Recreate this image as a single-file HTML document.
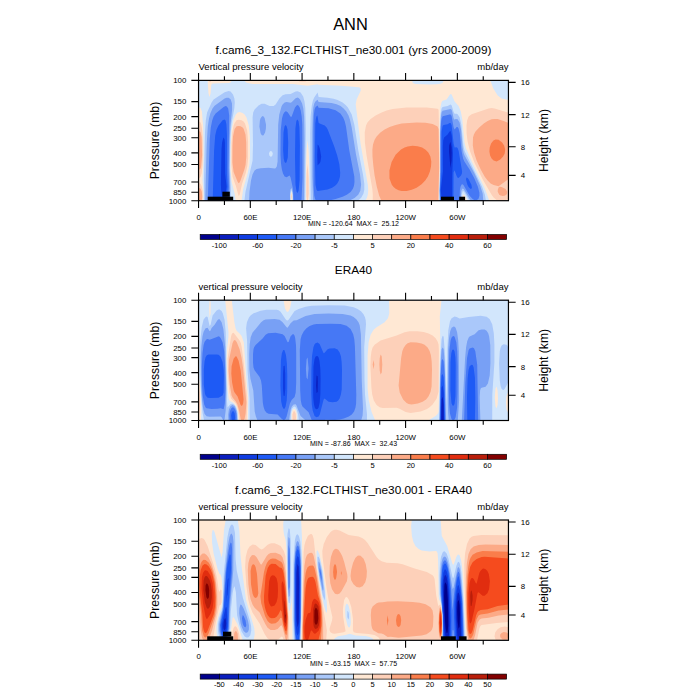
<!DOCTYPE html><html><head><meta charset="utf-8"><title>ANN</title><style>html,body{margin:0;padding:0;background:#fff}svg{display:block}text{font-family:'Liberation Sans', sans-serif;fill:#000}</style></head><body>
<svg width="700" height="700" viewBox="0 0 700 700">
<rect width="700" height="700" fill="#fff"/>
<defs><clipPath id="clip0"><rect x="198.55" y="80.4" width="309.9" height="120.3"/></clipPath><clipPath id="clip1"><rect x="198.55" y="300.2" width="309.9" height="120.3"/></clipPath><clipPath id="clip2"><rect x="198.55" y="520.0" width="309.9" height="120.3"/></clipPath></defs>
<text x="350.5" y="29.7" font-size="16.4" text-anchor="middle">ANN</text>
<g clip-path="url(#clip0)"><rect x="198.55" y="80.4" width="310" height="120.3" fill="#0a1ebe"/>
<path fill="#0f3ce1" fill-rule="evenodd" d="M199.6 80.4l309 0l0 120.3l-310 0l0-120.3zM450.1 142.6l-0.9 3l-0.2 6l1.5 16.4l1-7.4l0.2-8l-0.2-5l-1-5.6z"/>
<path fill="#1e5af5" fill-rule="evenodd" d="M199.6 80.4l309 0l0 120.3l-56.4 0l0-25.1l0.8-22l-1.3-18.1l-1.1-4.4l-1 0.3l-2 3l-3.5 3.1l-0.9 3.1l-0.3 6l0.1 25l-2.2 18.1l0.9 11l-243.1 0l0-120.3zM223.1 138.5l-1 4.1l-0.6 7l-0.6 35.1l0.4 8l1.3 5.4l1-0.4l2-4.7l1-6.3l-1.5-13.1l-0.2-31l-0.3-3.2l-1-1.8zM317.6 144.6l-0.4 11l0.4 9.6l1.9-1.6l1-2l0.7-5l-1.4-8l-1.2-3z"/>
<path fill="#4678f5" fill-rule="evenodd" d="M199.6 80.4l309 0l0 120.3l-55.2 0l0.2-28.2l1-2.3l2 5.7l1 1.8l1 0.4l2.4-2.5l0.9-2l0.2-2l-3.5-20.9l-1-2.8l-1-0.6l-2 0.3l-1-4.2l-2-18.2l-1-2.3l-1 0l-2 1.3l-4 0.8l-0.6 0.5l-0.5 1l-0.9 5l-0.3 41.1l-1.1 17.1l0.6 11l-214.5 0l1.4-14l-0.8-13.1l0.1-38.1l-0.6-11l-0.8-3.9l-1-1.2l-2 0.9l-4.1 5.2l-1.9 4.1l-1.4 5.9l-1.1 15.1l-1.4 50.1l-14.1 0l0-120.3zM317.4 115.5l-0.8 0.7l-0.7 2.3l-0.6 5l-0.4 36.1l0.6 25.1l1.1 5.4l1 1l10-1.7l4.5-1.7l3-2l2-2l1.8-3.1l1.1-4l0.2-4l-0.8-8l-2.2-9l-3.3-10l-6.2-16.1l-1.1-2.1l-1.9-1.9l-5.1-2l-1-0.8zM297.5 119.5l-0.9 0.9l-0.3 1.1l-0.9 7l-0.4 28.1l0.5 28.1l1.1 7.1l1 1.2l1-2.4l1-10.5l0.3-34.5l-0.5-18.1l-0.8-6.1zM285.2 125.5l-0.7 1.1l-1 5.8l-0.4 17.2l0.6 9l0.8 3.1l1 1.2l1-0.6l1.3-4.7l0.4-15l-0.7-13l-1-3.7l-1-0.8zM466.4 177.6l-0.4 2l1.4 5.1l1.2 2.4l2 2l1-0.5l0.3-0.9l-0.5-3l-2.8-5.4l-1-1.3z"/>
<path fill="#78a0f5" fill-rule="evenodd" d="M199.6 80.4l309 0l0 120.3l-49 0l0.3-11l0.7-3.3l1-2l1-0.2l1 1l6 10.5l3 3.4l2 1.2l2 0l1.9-1.6l0.9-3l0-3l-1.5-6l-3.5-8.1l-4.8-9.1l-5.2-7.9l-1.3-3l-1.5-7.4l-1.8-17.7l-1.2-5l-1-1.6l-1 0l-2 2.6l-1-2.3l-2-11.2l-1-1.4l-1 0l-7 1.7l-1 2.4l-0.4 2.8l-0.7 13l0 37.1l-0.7 18.1l0.3 11l-111.9 0l7.4-1.6l7-2.4l4.2-2l3.8-2.8l2.3-3.2l1.1-3l0.5-4l-0.2-5.1l-5-26l-3.3-24.1l-1.2-5l-1.6-4l-2.8-4l-4.8-3.3l-7-1.9l-10-0.6l-1-2.1l-2 1.5l-1 2.4l-0.8 6l-0.3 9l0.1 61.2l0.7 10l0.7 3l1 2l-14.5 0l1-23.1l-0.2-53.1l-0.6-8l-1-6l-1.1-3.3l-1-1.5l-1-0.6l-1 0.3l-1.6 2.1l-3.4 9.3l-1 0l-2.7-4.3l-1.3-1.1l-1-0.1l-1.4 1.2l-1.1 2l-1.1 4l-1.3 12l-0.2 24.1l0.5 9l0.9 6l1.1 4l1.6 2.8l2 0.8l3-1.6l1 1.9l2.4 11.2l0.6 12l-65.5 0l0.9-14l-0.6-18.1l0.8-53.1l-1-7l-1.3-2l-1.3-0.4l-2 1l-8 6.3l-2 3.1l-1.4 4l-1.4 7l-1 11l-2 62.2l-9.2 0l0-120.3z"/>
<path fill="#aac8fa" fill-rule="evenodd" d="M199.6 80.4l309 0l0 120.3l-25.4 0l-0.5-7l-2.5-8l-6.2-13.1l-9.4-17l-1-2.7l-1-5.3l-1.6-18.1l-1.4-6.9l-2-3.4l-2-0.3l-1 0.8l-1-1.4l-1.4-6.8l-0.6-1.7l-1-0.9l-8 1.8l-1 1.7l-0.8 5.1l-0.7 14l0 40.1l-0.6 19.1l0.2 10l-90.4 0l5.3-2.7l3.6-3.3l2.1-4l0.8-6l-1.1-10.1l-4-20l-4.3-27.1l-1.8-8l-1.4-4l-2.2-4l-2.7-3.1l-3-2.3l-4-1.9l-5-1.2l-13-1l-1-2.2l-2 1.4l-1.3 2.3l-1 4l-0.5 6l-0.5 19l0 44.1l0.9 24.1l-9.2 0l0.5-62.2l-0.4-22l-0.8-8l-1.2-5l-2-4.1l-1.5-1.5l-1-0.3l-2 0.7l-4 4l-1 0.4l-4-0.6l-2 0.4l-2 2l-1 1.8l-2.3 8.2l-1.1 10l-0.6 37.1l-0.8 5l-1.2 1.6l-1 0.2l-6-0.6l-8 0.4l-4 0.9l-2 1.4l-2 3.7l-1.6 6.4l-1.5 11.1l-0.4 9l-19.6 0l0.5-13l-0.7-18.1l0.3-28l0.7-15.1l1.8-17l-0.1-6l-1.4-4.3l-2-1.4l-2-0.1l-2 0.9l-10 7.1l-2.1 2.8l-2.2 5l-1.3 5l-1.2 8l-1.1 18.1l-1.5 56.1l-6.6 0l0-120.3zM261.9 116.5l-1.3 1.7l-0.7 2.3l-0.5 6l1.2 6.8l1 1.7l1 0.5l1-0.3l1.5-2.7l0.8-4l0.1-4l-1.4-6.5l-1-1.5l-1-0.4zM291.6 187.9l1.1 4.8l0.2 8l-2.9 0l0.1-9l0.5-2.5zM462.6 188.5l1 0.5l1 1.5l6.2 10.2l-10 0l0.4-9l0.4-1.8z"/>
<path fill="#d2e6fc" fill-rule="evenodd" d="M199.6 80.4l309 0l0 120.3l-22.7 0l-1-6l-2.8-8l-17.5-35.6l-1.2-5.5l-2.1-21.1l-1.7-7.3l-2-3l-1-0.5l-2 0l-1-1.6l-1.9-6.6l-1.1-1l-3 1.5l-5 1l-1 1.4l-1 5.4l-0.7 14.7l0.1 43.1l-0.8 19.1l0.4 10l-81.7 0l3.3-3l2.2-4l0.9-4l0-6l-1.3-9.1l-4.7-24l-4-26.1l-2.6-10l-3.8-7l-2.3-2.6l-3-2.4l-5-2.5l-4-1.3l-6-1l-9-0.8l-1-4.3l-3.4 4.8l-1.3 3l-1.1 5.1l-1.2 11.1l-0.4 16.9l0.6 67.2l-5.8 0l0.8-72.2l-0.5-20l-0.8-7l-1.3-5.1l-2.6-3.8l-3-1.4l-2 0.4l-5 2.5l-5 0.1l-3 1.1l-3.2 3.1l-3.8 6.1l-2 1.4l-4 0l-5-2.1l-3-0.1l-3.1 1.8l-3.9 4l-1.4 3l-0.6 4.7l0.4 27.4l-0.4 16l-7.1 31.1l-1.1 9l-13.5 0l0-11l-1-22.1l0.4-30.1l1.2-14l2.8-15l0.5-6l-0.4-4.1l-1.4-4l-2.4-2.8l-2-0.5l-4 1.1l-11 7.3l-2 3l-4.5 10l-1.3 8l-0.8 12l-1 47.1l0.2 21.1l-5.6 0l0-120.3zM270.6 151l1.4 0.6l0.8 2l-0.4 2l-0.8 1l-1 0.1l-1.3-1.1l-0.3-2l0.6-1.9zM291.6 189.6l1 5.1l0 5l-0.1 1l-2 0l-0.1-7zM462.6 191.3l1 0l1 1.2l4.7 8.2l-7.8 0l0.2-6z"/>
<path fill="#ffe8d4" fill-rule="evenodd" d="M207.6 80.4l24.2 0l-1.2 2l-2 0.6l-16 0.4l-1 0.8l-0.4 1.2l-0.6 7.9l-1 3.7l-1.1-3.6zM245.6 80.4l166.5 0l0.5 2.1l1.1 0.9l1.9 0.6l14 0.5l7-0.2l4-0.5l2.4-1.4l0.5-2l46.9 0l2.9 8l4.4 7l3.9 3.1l7 1.5l0 100.7l-19.3 0l-4.4-12l-13.3-27.4l-5.9-13.7l-1.2-5l-2.2-23.1l-1.5-8l-2.2-5.4l-4-4.7l-3-6.9l-1-0.4l-1 0.9l-3 4.4l-4 1.3l-1 1.2l-1.2 5.6l-0.7 15l0.1 47.1l-0.8 20.1l0.2 11l-73.9 0l1.6-3l0.9-3l0.4-4l-0.2-5l-7.4-41.7l-4.9-39.5l0.9-5.1l4.2-9l-0.2-2.4l-2-0.8l-17-1.5l-23-0.9l-1-0.6l-10 1.5l-15-1.6l-40-0.1l-6-1.2l-1.6-1.4l-0.3-1zM199.6 107.6l1 0.5l1.3 3.4l1.3 15l0.4 30.1l-1.1 24l1 12.1l-0.1 8l-4.8 0l0-93.1zM237.6 112.4l2-0.4l3 0.9l2 1.6l1.9 3l2.3 8l1.1 11l0.1 19.1l-0.5 9l-2.1 10l-4.2 14.1l-1.6 12l-5.9 0l-1.1-7.2l-3-11.7l-1-11.2l0.1-24l0.9-16.8l2-10.2l2-4.8zM307.6 140.3l1 10l0.5 11.3l0.4 34.1l-0.2 5l-3.4 0l0.1-34.1l0.6-16.7zM291.6 191.2l0.6 3.5l0.1 4l-0.3 2l-1 0l-0.4-5zM463.6 194.3l1 0.9l3 5.5l-5.2 0l0.2-4.7z"/>
<path fill="#fdd0b9" fill-rule="evenodd" d="M209.6 80.4l1.5 0l-0.5 1.3l-1 0.8l-0.4-2.1zM298.6 80.4l8.6 0l-1.4 1l-3.2 0.4l-3.2-0.4l-1.2-1zM406.6 107.5l20 0l11 1.3l1 0.9l1 44.9l-0.7 46.1l-66.2 0l0.1-6l-0.5-6l-5.7-32.9l-1.7-13.2l-0.2-10.1l1.3-7l1.6-3.2l3-3.2l5-3.5l6-3.2l5-1.9l6-1.5zM488.6 108.4l3-0.3l3 0.4l14 4.3l0 86.1l-5 1.8l-4.3 0l-2.7-0.8l-2.8-2.2l-2.2-2.9l-9-15.6l-8-16.2l-4.5-11.4l-2.5-10l-1-8.1l-0.1-8l0.6-5l1.5-3.9l3-2.3zM236.6 120.3l2-0.6l3 0.6l2 1.3l1.4 1.9l2.2 7l0.9 11.1l0 17l-0.8 8l-1.7 6.9l-3.5 10.2l-2.5 11.4l-1 0.9l-2.8-10.3l-3.2-8.7l-1.2-12.4l0.1-21l0.8-11.1l1.3-6.9l1-2.7zM199.6 121.7l1 0.7l0.7 2.1l0.8 5l0.7 11.1l0.1 15l-0.4 9l-0.9 8.8l-1 3.5l-2 2.2l0-57.5zM307.6 164l1 14.6l0.1 15.1l-0.8 7l-0.8 0l-0.7-5l0-12l0.2-10.2zM199.5 182.7l1.1 1.2l1 2.2l1 4.5l0.3 5.1l-0.3 5l-4 0l0-18.6zM291.6 192.9l0.4 3.8l-0.4 3.8l-0.5-3.8z"/>
<path fill="#fcaa87" fill-rule="evenodd" d="M491.6 119.3l3-0.4l3 0.2l6 1.8l5 2.2l0 55.8l-10 7.3l-5-1.1l-3-1.6l-3-3l-3-4.1l-4-7.1l-4-8.8l-2.6-7.9l-1.2-7l0.2-8.1l0.9-3l1.6-3l3.7-4l4.6-4l3.8-2.5zM416.6 122.5l9 0.3l7 1.2l5 2.5l1 2.8l0.6 38.3l-1.1 33.1l-56.6 0l-2.3-5l-2.4-9l-2.2-11.1l-1.3-10l-0.8-9l-0.1-7l0.6-5l1.6-4.9l2-3.2l3.8-4l4.2-3l5-2.6l6-2l6-1.3zM236.6 126.3l2-0.4l2 0.4l2 1.2l1 1.2l1.9 5.8l0.7 8.1l0.1 14l-0.7 8.1l-1.2 4.9l-3.8 10.7l-1 2.3l-1 0.6l-1-1.5l-4-9.8l-1.2-9.3l0.1-17l0.5-9.1l1.6-7.4zM199.6 131.3l1 1l1 4.8l0.5 18.5l-1 11l-0.5 1.9l-1 1l-1 0.2l0-38.6zM498.6 187.6l1-0.8l2 0.2l4 2l1.6 2.7l-0.2 2l-0.7 1l-1.7 1l-2 0.3l-2-0.4l-1.4-0.9l-1.5-3l0.1-2zM199.6 188.2l1 0.5l1.2 3l0.4 5l-0.5 4l-3.1 0l0-12.6z"/>
<path fill="#fa7d4b" fill-rule="evenodd" d="M495.6 139.4l3 0.4l3.5 2.8l2 3l1.1 4l-0.5 4l-1.6 3l-2.8 3l-3.7 1.8l-3-0.8l-2-2l-1.5-3l-0.7-4l0.3-4l1.4-4l2.3-3.1zM407.6 146.5l5-0.7l5 0.4l4.5 1.4l3.5 2.1l2.7 2.9l2.1 4l0.9 5l-0.3 5l-1.1 5l-2 5l-2.7 4l-3.6 3.7l-5 3.4l-4.8 2l-5.2 1.2l-5 0l-3-0.7l-3-1.5l-2-1.6l-1.8-2.4l-2.3-6.1l-0.1-8l2.2-8.7l4-7.2l5.4-5.1l3.6-2z"/><rect x="207.7" y="196.7" width="25.5" height="4.0" fill="#000"/><rect x="222.4" y="191.7" width="7.4" height="5.1" fill="#000"/><rect x="441.0" y="196.7" width="13.0" height="4.0" fill="#000"/><rect x="459.2" y="196.7" width="5.9" height="4.0" fill="#000"/></g>
<rect x="198.55" y="80.4" width="309.9" height="120.3" fill="none" stroke="#000" stroke-width="1.2"/>
<path d="M198.55 80.4v-7.4M198.55 200.7v7.4M224.43 80.4v-4.2M224.43 200.7v4.2M250.31 80.4v-7.4M250.31 200.7v7.4M276.19 80.4v-4.2M276.19 200.7v4.2M302.07 80.4v-7.4M302.07 200.7v7.4M327.95 80.4v-4.2M327.95 200.7v4.2M353.83 80.4v-7.4M353.83 200.7v7.4M379.71 80.4v-4.2M379.71 200.7v4.2M405.59 80.4v-7.4M405.59 200.7v7.4M431.47 80.4v-4.2M431.47 200.7v4.2M457.35 80.4v-7.4M457.35 200.7v7.4M483.23 80.4v-4.2M483.23 200.7v4.2M198.55 80.40h-7.2M198.55 101.58h-7.2M198.55 116.61h-7.2M198.55 128.27h-7.2M198.55 137.80h-7.2M198.55 152.83h-7.2M198.55 164.49h-7.2M198.55 182.07h-7.2M198.55 192.21h-7.2M198.55 200.70h-7.2M508.45 82.40h7.2M508.45 114.60h7.2M508.45 146.80h7.2M508.45 175.40h7.2" stroke="#000" stroke-width="1.1" fill="none"/>
<text x="186.3" y="83.30" font-size="7.9" text-anchor="end">100</text>
<text x="186.3" y="104.48" font-size="7.9" text-anchor="end">150</text>
<text x="186.3" y="119.51" font-size="7.9" text-anchor="end">200</text>
<text x="186.3" y="131.17" font-size="7.9" text-anchor="end">250</text>
<text x="186.3" y="140.70" font-size="7.9" text-anchor="end">300</text>
<text x="186.3" y="155.73" font-size="7.9" text-anchor="end">400</text>
<text x="186.3" y="167.39" font-size="7.9" text-anchor="end">500</text>
<text x="186.3" y="184.97" font-size="7.9" text-anchor="end">700</text>
<text x="186.3" y="195.11" font-size="7.9" text-anchor="end">850</text>
<text x="186.3" y="203.60" font-size="7.9" text-anchor="end">1000</text>
<text x="520.8" y="85.30" font-size="7.9">16</text>
<text x="520.8" y="117.50" font-size="7.9">12</text>
<text x="520.8" y="149.70" font-size="7.9">8</text>
<text x="520.8" y="178.30" font-size="7.9">4</text>
<text x="198.65" y="219.70" font-size="7.9" text-anchor="middle">0</text>
<text x="250.41" y="219.70" font-size="7.9" text-anchor="middle">60E</text>
<text x="302.17" y="219.70" font-size="7.9" text-anchor="middle">120E</text>
<text x="353.93" y="219.70" font-size="7.9" text-anchor="middle">180</text>
<text x="405.69" y="219.70" font-size="7.9" text-anchor="middle">120W</text>
<text x="457.45" y="219.70" font-size="7.9" text-anchor="middle">60W</text>
<text x="353.5" y="226.00" font-size="7.0" text-anchor="middle" xml:space="preserve">MIN = -120.64  MAX =  25.12</text>
<text transform="translate(159.4 140.55) rotate(-90)" font-size="12.25" text-anchor="middle">Pressure (mb)</text>
<text transform="translate(547.8 140.55) rotate(-90)" font-size="12.2" text-anchor="middle">Height (km)</text>
<text x="198.55" y="70.40" font-size="9.5">Vertical pressure velocity</text>
<text x="508.45" y="70.40" font-size="9.5" text-anchor="end">mb/day</text>
<text x="353.5" y="53.90" font-size="11.8" text-anchor="middle">f.cam6_3_132.FCLTHIST_ne30.001 (yrs 2000-2009)</text>
<rect x="200.20" y="234.50" width="19.15" height="5.0" fill="#00008c" stroke="#000" stroke-width="0.7"/>
<rect x="219.35" y="234.50" width="19.15" height="5.0" fill="#0a1ebe" stroke="#000" stroke-width="0.7"/>
<rect x="238.50" y="234.50" width="19.15" height="5.0" fill="#0f3ce1" stroke="#000" stroke-width="0.7"/>
<rect x="257.65" y="234.50" width="19.15" height="5.0" fill="#1e5af5" stroke="#000" stroke-width="0.7"/>
<rect x="276.80" y="234.50" width="19.15" height="5.0" fill="#4678f5" stroke="#000" stroke-width="0.7"/>
<rect x="295.95" y="234.50" width="19.15" height="5.0" fill="#78a0f5" stroke="#000" stroke-width="0.7"/>
<rect x="315.10" y="234.50" width="19.15" height="5.0" fill="#aac8fa" stroke="#000" stroke-width="0.7"/>
<rect x="334.25" y="234.50" width="19.15" height="5.0" fill="#d2e6fc" stroke="#000" stroke-width="0.7"/>
<rect x="353.40" y="234.50" width="19.15" height="5.0" fill="#ffe8d4" stroke="#000" stroke-width="0.7"/>
<rect x="372.55" y="234.50" width="19.15" height="5.0" fill="#fdd0b9" stroke="#000" stroke-width="0.7"/>
<rect x="391.70" y="234.50" width="19.15" height="5.0" fill="#fcaa87" stroke="#000" stroke-width="0.7"/>
<rect x="410.85" y="234.50" width="19.15" height="5.0" fill="#fa7d4b" stroke="#000" stroke-width="0.7"/>
<rect x="430.00" y="234.50" width="19.15" height="5.0" fill="#f54b1e" stroke="#000" stroke-width="0.7"/>
<rect x="449.15" y="234.50" width="19.15" height="5.0" fill="#e12d0f" stroke="#000" stroke-width="0.7"/>
<rect x="468.30" y="234.50" width="19.15" height="5.0" fill="#b91e0a" stroke="#000" stroke-width="0.7"/>
<rect x="487.45" y="234.50" width="19.15" height="5.0" fill="#820000" stroke="#000" stroke-width="0.7"/>
<text x="219.35" y="247.70" font-size="7.5" text-anchor="middle">-100</text>
<text x="257.65" y="247.70" font-size="7.5" text-anchor="middle">-60</text>
<text x="295.95" y="247.70" font-size="7.5" text-anchor="middle">-20</text>
<text x="334.25" y="247.70" font-size="7.5" text-anchor="middle">-5</text>
<text x="372.55" y="247.70" font-size="7.5" text-anchor="middle">5</text>
<text x="410.85" y="247.70" font-size="7.5" text-anchor="middle">20</text>
<text x="449.15" y="247.70" font-size="7.5" text-anchor="middle">40</text>
<text x="487.45" y="247.70" font-size="7.5" text-anchor="middle">60</text>
<g clip-path="url(#clip1)"><rect x="198.55" y="300.2" width="310" height="120.3" fill="#00008c"/>
<path fill="#0a1ebe" fill-rule="evenodd" d="M199.6 300.2l309 0l0 120.3l-66 0l0-6.3l-0.1 6.3l-243.9 0l0-120.3z"/>
<path fill="#0f3ce1" fill-rule="evenodd" d="M199.6 300.2l309 0l0 120.3l-64.8 0l-0.2-16.5l-1-7.2l-1 2.5l-0.4 21.2l-242.6 0l0-120.3zM316.5 376.4l-0.4 9l0.5 7.6l1-1l0.2-10.6l-0.2-5.2l-1-0.7z"/>
<path fill="#1e5af5" fill-rule="evenodd" d="M199.6 300.2l309 0l0 120.3l-64.3 0l-0.6-28.1l-1.1-6.8l-1 1.9l-0.2 2.9l-0.7 30.1l-242.1 0l0-120.3zM316.1 356.3l-0.6 0.5l-1 2.5l-1 7l-0.4 23.1l0.2 9l0.7 6.1l0.8 3l0.7 1.3l1 0.5l1-0.2l1-1.3l1.2-5.3l0.7-9.1l0.2-15l-0.3-10l-0.8-7.5l-1-3.6l-1-1.3zM283.5 366.4l-0.5 8l0 14l0.6 7.3l1 0.2l0.7-7.5l-0.1-15l-0.6-7.6l-1 0.1z"/>
<path fill="#4678f5" fill-rule="evenodd" d="M199.6 300.2l309 0l0 120.3l-33.7 0l0.4-23.1l-0.4-20l-1.3-10.1l-1-2.3l-1-0.2l-2 1.5l-0.3 1.1l-0.7 2.4l-1 8.7l-0.6 18.9l0.3 23.1l-22.4 0l-0.8-35.1l-0.5-8.2l-1-3.3l-1 1.6l-0.6 8.9l-0.7 36.1l-205.7 0l0.5-3l-0.4-4l-1.1-2.2l-1-0.1l-1 1.6l-0.5 2.7l0.6 5l-33.1 0l0-120.3zM315.5 343.3l-0.9 1l-1.2 3l-1.4 9l-0.6 14.1l-0.1 23l0.5 11.1l0.9 6l1.9 5.5l2 1.3l2-0.7l1.2-2.1l3.8-15l1-1l4 3.3l4 0.5l4-0.6l1.6-1.3l1.4-1.9l1.3-4.1l0.8-5l0.3-20l-0.4-8l-0.7-5.1l-1.3-3.9l-2-2.8l-3-1.3l-5 0.1l-2 0.9l-3 3.4l-1 0.5l-4-9.1l-2-1.5zM283.1 350.3l-1.2 3l-1 7.1l-0.5 25l0.8 16.1l1.1 5l1.2 2.3l1-0.1l1-2l1.2-6.3l0.5-9l0.1-16l-0.4-12l-0.9-8.1l-1.5-5l-1-0.4zM452.2 350.3l-0.9 3l-0.8 8.7l-0.1 28.4l1.1 12.9l1 2.3l1 0.2l1-1.9l1-7.9l0.2-31.6l-0.3-7.1l-0.9-6.1l-1-1.7l-1 0.2zM206.8 355.3l-1.2 1.9l-1 3.8l-0.8 8.4l0 15l1.1 9l0.7 2.2l2 2.1l3 0.3l8-0.3l4-2.3l1-3l0.3-17l-0.3-6.1l-1-7.4l-2-5.2l-2-2l-2-0.3l-8 0.1z"/>
<path fill="#78a0f5" fill-rule="evenodd" d="M199.6 300.2l309 0l0 120.3l-30.4 0l-1-56.1l-1.9-13.1l-1.3-3l-1.4-0.9l-3 1.1l-1 1.8l-1.6 8l-1.7 25.1l-1.2 37.1l-18.7 0l-0.7-44.1l-1.1-15.2l-1-2.1l-1 1.5l-1 14.3l-0.8 45.6l-116.6 0l2.4-0.7l9 0.2l5-0.4l4.3-1.1l4.9-2l3-2l2.3-3l1.4-4l0.6-4l0.2-9.1l-1.4-48.1l-0.6-7l-1.1-5l-2.6-5.3l-4-3.3l-6-1.7l-10-0.3l-14 0.2l-3 0.6l-4 1.6l-3.1 2.2l-2.7 3l-2.1 4l-1.1 4l-0.8 11l0.4 40.1l0.6 10l0.8 4.1l0.9 2l6.1 5.7l3.3 8.3l-75.5 0l0.1-5l-0.6-4l-1.3-3.1l-1-0.9l-1-0.2l-1.5 1.2l-1.2 3l-0.5 4l0.4 5l-31.2 0l0-120.3zM268.1 333.3l-2.5 1.5l-3 3.7l-7 6.6l-1.5 2.2l-0.6 2l-0.5 5l0 8.1l0.5 5l1.1 2.9l5 6.6l1.4 3.5l0.8 5l1 17.1l0.8 4.6l1.2 3.4l1.8 2.2l2 1l9 0.9l4 4.2l2 1.2l1-0.3l1-1l1-2.1l3.3-13.1l1.7-3.5l3-2.9l1.1-4.7l0.5-10l0-28.1l-0.2-9l-0.8-7l-0.6-2.5l-0.9-1.5l-1.1 0l-2 1.9l-2 5.8l-1 0.2l-3-6.2l-2-1.8l-7-1.4zM452.8 336.3l-1.2 1.2l-1 3l-1.2 9.8l-0.5 14.1l-0.1 26l0.4 14.1l0.8 9l1.6 5.7l1 0.9l1 0.1l1-0.7l1-2.3l1.5-9.7l0.5-16.1l0.1-25l-0.5-15.1l-0.9-9l-1.7-5.6l-1-0.6zM216.2 337.3l-6.6 2.4l-2-0.8l-1 0.3l-2 2.5l-1 3.4l-1.1 8.2l-0.7 13.1l0.2 17l0.7 12l1.5 9.1l1.4 2.9l1 0.9l5 0.6l6-0.1l3-0.5l3 1l1.2-5.8l0.7-15.1l-0.4-21l-0.9-16.1l-1.6-9l-2-4.3l-1-1.2l-1-0.5zM307.6 357.6l1 10.8l-1 11.2l-1.1-2.2l-0.6-9l0.7-9.1z"/>
<path fill="#aac8fa" fill-rule="evenodd" d="M199.6 300.2l309 0l0 120.3l-28.2 0l-0.7-23.1l0.4-7l0.6-2l0.9-0.7l4-1l2.3-3.3l1.8-8l0.7-12l-0.1-18.1l-1.2-9l-0.9-3l-1.6-2.5l-2-1.2l-3-0.2l-3 0.9l-4 3.9l-5 2.4l-1 1.1l-1.4 3.6l-1.1 6l-1 11l-3.3 62.2l-4 0l1.3-20.1l-0.3-49.1l-0.6-11l-1.1-8l-1.5-4.5l-1-1.1l-1-0.2l-2 1.2l-1.4 3.6l-1.2 7l-0.8 11l-0.4 52.2l0.3 11l0.7 8l-2.7 0l-1.2-55.1l-1.3-16.3l-1-1.5l-1 1.9l-1.2 15.9l-0.9 55.1l-78.3 0l1.4-5l0.4-7l-1.2-27.1l-0.9-47.1l-1.2-9l-1.2-3l-2.2-3.1l-2.7-2.2l-3-1.5l-8-1.6l-14-0.3l-14 0.4l-9 1.9l-9 4.3l-3 0.2l-3 2.9l-3 4.4l-1-0.4l-4-5.1l-3-2.5l-5-0.7l-9 0.5l-2 0.8l-2.5 2l-8.5 10.3l-1.9 4.7l-1 7l-0.5 10l0.2 15.1l1 9l2.9 12l1.4 21.1l1.2 5l1.6 4l-20.2 0l-0.1-6l-1-5l-1.6-3.2l-2-1.2l-2 0.9l-1.7 3.5l-0.7 5l0.2 6l-4.7 0l0.9-1.4l1.1-8.6l0.6-21.1l-1.1-42.1l-1.8-18l-1.8-7.1l-2-3l-1 0l-1 0.7l-3 4.8l-3 3.3l-1 2.6l-1 0.7l-2-3.6l-2 0.6l-2 3.5l-1.1 4.5l-1.1 10l-0.6 11l0.4 29.1l0.9 14l1.2 9.1l1.3 4.5l2 2.2l3 0.5l11-0.2l1 0.7l1.9 3.3l-24.9 0l0-120.3zM293.6 404.4l2-0.1l0.9 1.2l4.1 10.4l5.1 4.6l-16.7 0l1.7-11l1.1-3z"/>
<path fill="#d2e6fc" fill-rule="evenodd" d="M199.6 300.2l309 0l0 48.7l-1-2.9l-1-1.2l-3-0.5l-2 1.2l-1 2.2l-0.8 3.6l-0.7 12.1l0.7 17l0.8 5.5l1 2.8l1 1.1l1 0.1l1-0.8l4-7.3l0 38.7l-16.4 0l0.1-26.1l2.1-32l0-18.1l-0.6-11l-1.6-9l-2.6-5.3l-3-2.3l-6-0.9l-12 1.1l-9 1.6l-3-1.6l-2-0.5l-3 1.8l-1.6 3.1l-1.7 9l-0.9 18l-0.8 56.8l-1.6-50.8l-1.4-17.8l-1-0.8l-1 3.4l-1.2 19.2l-1.4 62.2l-72.1 0l0.1-6l-2-20.1l-0.5-14l-0.3-33.1l1.8-23l-0.3-4.1l-0.7-3l-1.5-3l-2.5-3l-3.4-2.3l-4-1.7l-9-1.6l-16-0.3l-17 0.5l-6 1l-7 2.1l-4 2.2l-6 8.6l-1 0.7l-1-0.2l-1-1l-5-7.5l-2-1.5l-2-0.5l-10 0l-6 1.1l-7 2.5l-2.8 1.9l-1.7 2l-2.2 5.1l-0.8 6l1 13l0.5 30.1l2 27l0.1 22.1l-11.8 0l-0.6-9l-1.2-4l-1.5-2.4l-2-1.3l-2 0.2l-3.1 3.5l-0.5-6l-1.3-69.2l-1.1-12.2l-1.8-6.9l-1.2-2.2l-2-1.6l-1 0l-2 1.2l-4 4.8l-2 9.3l-1 1.3l-2-8.9l-1-0.6l-1 0.5l-2 2.6l-1.9 7.7l-1.4 14l-0.5 14l0.1 17.1l1.3 24l1.4 16.6l1.5 7.5l-5.5 0l0-120.3zM293.6 406.7l1-0.1l1 0.6l1 1.9l1.5 5.4l0.7 6l-8.4 0l0.7-9l1-3z"/>
<path fill="#ffe8d4" fill-rule="evenodd" d="M209.6 300.2l0.5 0l0.5 2.4l0.1 5.6l-0.1 5.4l-1 4.4l-0.5-9.8zM225.6 300.2l6.2 0l2.6 22.1l1.2 6.1l1 2.3l3 2.7l2 2.6l2.2 6.3l2.8 38.7l1.6 16.4l-0.3 23.1l-9.4 0l-0.5-8l-1.6-6l-2.8-3.6l-4-2.2l-1-2.3l-1-9.5l-0.9-28.5l0.3-11.1l1.4-12l0.1-5l-3.3-32.1zM283.6 300.2l8 0l-1.5 8l-1.5 3.1l-1 0.8l-1-0.5l-1.7-3.4zM389.6 300.2l51.9 0l-1.7 16l0.5 25.1l-1.7 70.8l-1 2l-2 1.9l-7.2 4.5l-53.2 0l-3.6-8.4l-2.8-11.7l-1.2-12l0-33.1l1-13l2-7.6l3-5l3-2.5l8-4.9l3.4-4.1l1.3-5l-0.3-13zM198.6 375.4l1 6l1 13.2l0.7 16.9l-0.3 9l-2.4 0zM496.6 386.6l1 4l0.4 7.8l-0.4 6.5l-1 3.3l-1.1-1.7l-0.7-9.1l0.7-9zM507.6 392.9l1 1.1l0 15.9l-1 2.1l-1.1-2.5l-0.6-7l0.5-6.1zM293.6 408.9l1-0.1l1 1.1l1 2.6l0.5 4l-0.1 4l-5.4 0l0-7l1-3.5z"/>
<path fill="#fdd0b9" fill-rule="evenodd" d="M409.6 331.3l8 0l6 0.7l5 1.4l4 2.2l3 2.7l2 3.3l1 3l0.3 6.7l-0.3 40.1l-1.9 7l-4.1 6.2l-3 2.7l-3 1.9l-6 2.2l-10 1.5l-5-0.9l-6-3.3l-3-1l-14 0.2l-3-0.7l-3-2.1l-2.8-4.7l-1.6-6l-0.8-7l-1-21l0.3-9.1l0.8-6l1.1-3.8l2-2.7l6-4.3l16-5l8-3.2zM232.6 332.9l1-0.2l6 7.7l1.3 2.9l0.8 4l2.1 16.1l3.4 34l0.1 9.1l-0.8 14l-7.1 0l-1-9l-1.2-5l-1.6-3.2l-4.6-4.9l-1.6-6l-1.6-18l-0.2-15.3l3.3-21.8l0.7-2.9zM198.7 387.4l0.9 4.7l0.5 12.4l-0.5 8l-1 2.1zM293.6 411.3l1-0.1l1.1 2.3l0.3 4l-0.4 3l-2.7 0l-0.3-0.9l-0.2-5.1z"/>
<path fill="#fcaa87" fill-rule="evenodd" d="M234.6 340l1 0.5l1.2 1.8l2.8 6.9l2 8.7l1.4 9.5l3.4 35.1l-0.8 11.3l-1 4.9l-1.2 1.8l-2 0l-0.8-1.8l-1.5-8.2l-1.7-6l-1.6-3l-3.2-3.9l-1-2.2l-1.9-11l-1.1-14l0.3-10l3.6-17.1l1.1-2.5zM410.6 342.3l6 0.1l5 1l3 1.3l3 2.7l2 3.5l1.3 4.4l0.8 6.1l0.3 8l-0.4 17l-1 5.3l-2 4.6l-2.5 3.1l-3.5 2.4l-4.8 1.7l-6.2 1l-3-0.4l-2-1l-3.5-3.7l-3.4-7l-1.1-7l2.5-27.1l1.2-7l1.3-3.4l2-3l2-1.6zM380.6 354.5l1.1 1.8l0.6 8.1l-0.5 8l-1.2 2.2l-0.9-4.2l-0.3-6l0.3-6.1zM373.6 360l0.7 4.4l-0.7 4.8l-0.9-4.8z"/>
<path fill="#fa7d4b" fill-rule="evenodd" d="M235.6 356.3l1 0.3l2 4.1l2.1 9.7l2.9 29l-0.5 4.1l-0.5 1.5l-1 0.9l-1-0.9l-3-8.4l-3-4.2l-0.9-2l-1.6-8l-0.8-9l0.3-7.1l2-7.5z"/></g>
<rect x="198.55" y="300.2" width="309.9" height="120.3" fill="none" stroke="#000" stroke-width="1.2"/>
<path d="M198.55 300.2v-7.4M198.55 420.5v7.4M224.43 300.2v-4.2M224.43 420.5v4.2M250.31 300.2v-7.4M250.31 420.5v7.4M276.19 300.2v-4.2M276.19 420.5v4.2M302.07 300.2v-7.4M302.07 420.5v7.4M327.95 300.2v-4.2M327.95 420.5v4.2M353.83 300.2v-7.4M353.83 420.5v7.4M379.71 300.2v-4.2M379.71 420.5v4.2M405.59 300.2v-7.4M405.59 420.5v7.4M431.47 300.2v-4.2M431.47 420.5v4.2M457.35 300.2v-7.4M457.35 420.5v7.4M483.23 300.2v-4.2M483.23 420.5v4.2M198.55 300.20h-7.2M198.55 321.38h-7.2M198.55 336.41h-7.2M198.55 348.07h-7.2M198.55 357.60h-7.2M198.55 372.63h-7.2M198.55 384.29h-7.2M198.55 401.87h-7.2M198.55 412.01h-7.2M198.55 420.50h-7.2M508.45 302.20h7.2M508.45 334.40h7.2M508.45 366.60h7.2M508.45 395.20h7.2" stroke="#000" stroke-width="1.1" fill="none"/>
<text x="186.3" y="303.10" font-size="7.9" text-anchor="end">100</text>
<text x="186.3" y="324.28" font-size="7.9" text-anchor="end">150</text>
<text x="186.3" y="339.31" font-size="7.9" text-anchor="end">200</text>
<text x="186.3" y="350.97" font-size="7.9" text-anchor="end">250</text>
<text x="186.3" y="360.50" font-size="7.9" text-anchor="end">300</text>
<text x="186.3" y="375.53" font-size="7.9" text-anchor="end">400</text>
<text x="186.3" y="387.19" font-size="7.9" text-anchor="end">500</text>
<text x="186.3" y="404.77" font-size="7.9" text-anchor="end">700</text>
<text x="186.3" y="414.91" font-size="7.9" text-anchor="end">850</text>
<text x="186.3" y="423.40" font-size="7.9" text-anchor="end">1000</text>
<text x="520.8" y="305.10" font-size="7.9">16</text>
<text x="520.8" y="337.30" font-size="7.9">12</text>
<text x="520.8" y="369.50" font-size="7.9">8</text>
<text x="520.8" y="398.10" font-size="7.9">4</text>
<text x="198.65" y="439.50" font-size="7.9" text-anchor="middle">0</text>
<text x="250.41" y="439.50" font-size="7.9" text-anchor="middle">60E</text>
<text x="302.17" y="439.50" font-size="7.9" text-anchor="middle">120E</text>
<text x="353.93" y="439.50" font-size="7.9" text-anchor="middle">180</text>
<text x="405.69" y="439.50" font-size="7.9" text-anchor="middle">120W</text>
<text x="457.45" y="439.50" font-size="7.9" text-anchor="middle">60W</text>
<text x="353.5" y="445.80" font-size="7.0" text-anchor="middle" xml:space="preserve">MIN = -87.86  MAX =  32.43</text>
<text transform="translate(159.4 360.35) rotate(-90)" font-size="12.25" text-anchor="middle">Pressure (mb)</text>
<text transform="translate(547.8 360.35) rotate(-90)" font-size="12.2" text-anchor="middle">Height (km)</text>
<text x="198.55" y="290.20" font-size="9.5">vertical pressure velocity</text>
<text x="508.45" y="290.20" font-size="9.5" text-anchor="end">mb/day</text>
<text x="353.5" y="273.70" font-size="11.8" text-anchor="middle">ERA40</text>
<rect x="200.20" y="454.30" width="19.15" height="5.0" fill="#00008c" stroke="#000" stroke-width="0.7"/>
<rect x="219.35" y="454.30" width="19.15" height="5.0" fill="#0a1ebe" stroke="#000" stroke-width="0.7"/>
<rect x="238.50" y="454.30" width="19.15" height="5.0" fill="#0f3ce1" stroke="#000" stroke-width="0.7"/>
<rect x="257.65" y="454.30" width="19.15" height="5.0" fill="#1e5af5" stroke="#000" stroke-width="0.7"/>
<rect x="276.80" y="454.30" width="19.15" height="5.0" fill="#4678f5" stroke="#000" stroke-width="0.7"/>
<rect x="295.95" y="454.30" width="19.15" height="5.0" fill="#78a0f5" stroke="#000" stroke-width="0.7"/>
<rect x="315.10" y="454.30" width="19.15" height="5.0" fill="#aac8fa" stroke="#000" stroke-width="0.7"/>
<rect x="334.25" y="454.30" width="19.15" height="5.0" fill="#d2e6fc" stroke="#000" stroke-width="0.7"/>
<rect x="353.40" y="454.30" width="19.15" height="5.0" fill="#ffe8d4" stroke="#000" stroke-width="0.7"/>
<rect x="372.55" y="454.30" width="19.15" height="5.0" fill="#fdd0b9" stroke="#000" stroke-width="0.7"/>
<rect x="391.70" y="454.30" width="19.15" height="5.0" fill="#fcaa87" stroke="#000" stroke-width="0.7"/>
<rect x="410.85" y="454.30" width="19.15" height="5.0" fill="#fa7d4b" stroke="#000" stroke-width="0.7"/>
<rect x="430.00" y="454.30" width="19.15" height="5.0" fill="#f54b1e" stroke="#000" stroke-width="0.7"/>
<rect x="449.15" y="454.30" width="19.15" height="5.0" fill="#e12d0f" stroke="#000" stroke-width="0.7"/>
<rect x="468.30" y="454.30" width="19.15" height="5.0" fill="#b91e0a" stroke="#000" stroke-width="0.7"/>
<rect x="487.45" y="454.30" width="19.15" height="5.0" fill="#820000" stroke="#000" stroke-width="0.7"/>
<text x="219.35" y="467.50" font-size="7.5" text-anchor="middle">-100</text>
<text x="257.65" y="467.50" font-size="7.5" text-anchor="middle">-60</text>
<text x="295.95" y="467.50" font-size="7.5" text-anchor="middle">-20</text>
<text x="334.25" y="467.50" font-size="7.5" text-anchor="middle">-5</text>
<text x="372.55" y="467.50" font-size="7.5" text-anchor="middle">5</text>
<text x="410.85" y="467.50" font-size="7.5" text-anchor="middle">20</text>
<text x="449.15" y="467.50" font-size="7.5" text-anchor="middle">40</text>
<text x="487.45" y="467.50" font-size="7.5" text-anchor="middle">60</text>
<g clip-path="url(#clip2)"><rect x="198.55" y="520.0" width="310" height="120.3" fill="#00008c"/>
<path fill="#0a1ebe" fill-rule="evenodd" d="M199.6 520l309 0l0 120.3l-310 0l0-120.3zM445.4 582.2l-0.8 1.8l-0.2 2.2l-0.3 11l1 25.1l0.5 5.6l1 5l1-0.4l0.6-7.2l-0.3-24.1l-1-15l-0.3-1.8zM458.4 600.2l-0.8 1.8l-0.4 9.2l0.4 10.1l1 7.4l1-1.9l0.4-12.6l-0.4-9.1l-1-5.3z"/>
<path fill="#0f3ce1" fill-rule="evenodd" d="M199.6 520l309 0l0 120.3l-47.6 0l-0.3-32.1l-1.1-12.2l-1-3.6l-1 1.2l-0.6 3.6l-0.8 11l0.2 11l1.3 21.1l-9.4 0l0.7-6l0.3-9l-0.6-29.1l-1.1-13.8l-1-5.2l-1-2.1l-1 0.6l-1 4.2l-0.5 12.3l1.5 37.1l1.5 11l-247.5 0l0-120.3zM297.5 564.1l-1 9l-0.2 30.1l0.3 17.1l1 7l1-4.3l0.2-4.8l0.3-35l-0.5-16.5zM224.4 619.2l-0.8 3.1l-0.3 4l0.3 2.4l1 1.5l1-1.4l0.6-5.5l-0.6-5l-1 0.4z"/>
<path fill="#1e5af5" fill-rule="evenodd" d="M199.6 520l309 0l0 120.3l-46.5 0l-0.9-36.1l-1.3-14l-1.3-5.3l-1 1.2l-1 4.8l-1.2 13.3l0 13l1.1 23.1l-6.6 0l0.4-19l-1-31.1l-1.5-14.1l-1.2-4.8l-1-1.8l-1 0l-1.3 3.6l-1.1 13.1l1.4 40.1l1 14l-246 0l0-120.3zM297.5 556.1l-1 3l-0.8 10l-0.2 35.1l0.4 22.1l0.7 6.6l1 2.7l1-2.3l1-12l0.3-41.2l-0.6-18l-0.7-4.8zM228.6 578.1l-1 1.3l-1 11.8l0 11.5l0.4-6.5l0.6-1.7zM226.6 607.2l-1 0.3l-3.6 16.8l0 4l0.6 3.5l1 2.3l1 0.4l1-1.1l0.7-2.1l0.9-5l0.1-6.1z"/>
<path fill="#4678f5" fill-rule="evenodd" d="M199.6 520l309 0l0 120.3l-45.4 0l-1.3-39.1l-1.9-19l-1.4-6.1l-1 1.3l-1.2 5.8l-2.1 19l-0.2 15l1.1 23.1l-4 0l0.2-25.1l-1.4-30l-1-9.1l-1.4-7.5l-1.2-3.5l-0.8-1.3l-1-0.3l-1.2 1.6l-1.2 5l-0.9 14.1l0.1 9l1.5 23l0.6 24.1l-144.8 0l0.9-6l0.7-13l0.2-50.2l-0.9-16.4l-1-4.5l-1-1l-1 1.9l-1 5.7l-0.8 17.3l0.1 48.2l0.5 11l1.1 7l-97.9 0l0-120.3zM229.5 555.1l-1.9 8.5l-1.3 9.5l-2.4 35.1l-3.2 17.1l0.7 8l1.2 4l1 1.5l1 0l2-3.6l1.6-8.9l0.2-18.1l2.7-40.1l-0.4-13l-0.1-0.4l-1-0.2z"/>
<path fill="#78a0f5" fill-rule="evenodd" d="M199.6 520l309 0l0 120.3l-44.9 0l-1.3-39.1l-2.8-27.4l-1-2.3l-1 1.2l-1 4.3l-2.6 17.2l-1.4 16.3l-1.6-22.3l-1.9-16.1l-2.2-9l-1.3-2.5l-1-0.4l-1.5 1.9l-1.1 4l-1.2 15.1l0.1 12l1.8 24l0.3 23.1l-143.5 0l1.2-22.1l0.2-51.1l-1.2-16l-1.1-4.6l-1-0.9l-1 1.5l-1.2 6l-1 17l0 50.1l0.4 12.1l0.8 8l-70.2 0l1.9-5l1.3-7l0.6-21.1l2.8-35.1l0.1-23l-0.5-5.5l-1-1l-1 2.7l-1 5.1l-2.5 17.7l-2.9 41.1l-3.2 15.1l0.2 7l2.3 9l-23.9 0l0-120.3zM288.6 545.1l-0.5 16l0.5 29.1l1-3.2l0.3-23.9l-0.3-13.7zM319.6 568.1l0 3.3l2 10.4l0-5l-1-6.3zM242.6 615.2l-0.6 3l0.6 4.7l1 2.9l1 1.3l1 0.2l0.7-2l-0.7-4.8l-2-4.7zM452.6 630.1l1 0.3l0.6 9.9l-2 0z"/>
<path fill="#aac8fa" fill-rule="evenodd" d="M199.6 520l309 0l0 120.3l-44.3 0l-1.4-38.1l-1.9-24.1l-1.3-9l-1.1-2.2l-1 1l-4 19.7l-1 1.5l-4.2-25l-1.8-5.6l-1-1.6l-1-0.5l-1 0.5l-1 1.7l-1 3.7l-0.9 6.8l-0.5 10l0.1 14.1l2.2 22l0.1 25.1l-142.6 0l1.1-25.1l0.1-52.1l-1.3-16l-1.3-5.2l-1-0.9l-1 1.1l-1.2 5l-1.4 18l-0.2 55.1l1.1 20.1l-68.2 0l1.4-5l1.1-7l0.7-20.1l3.4-38.1l0.2-28l-0.7-6.1l-1.2-2.5l-1 0.7l-1 2.5l-1.6 8.4l-3.6 33l-1.5 29.1l-3.8 17.1l0 6l2.1 10l-22.6 0l0-120.3zM288.5 537l-0.6 8.1l-0.3 14l0.3 25.1l0.7 12.8l1-0.9l0.3-4.9l0.4-28.1l-0.5-22l-0.2-2.6zM318.5 562.1l0 6l1.1 8l3 14.5l0.7-0.4l0.1-2l-1.5-15.1l-2.3-10.3l-1-1.3zM240.2 605.2l-0.8 3l-0.2 5l1.4 10.1l1.2 4l1.8 3.7l2 1.7l1 0.1l1-0.5l0.7-1l0.6-2l0-4l-0.8-4l-1.5-5.3l-3-7.6l-2-3.4l-1-0.4z"/>
<path fill="#d2e6fc" fill-rule="evenodd" d="M199.6 520l309 0l0 120.3l-43.6 0l-1.8-43.1l-1.8-24.1l-1-7l-0.8-3l-0.7-1l-0.3-0.3l-1 0.7l-1.3 3.6l-2.7 11.7l-1 0l-4.3-19.7l-1.7-4.5l-2-2.3l-1 0.1l-1 1.1l-1.6 4.6l-1 7l-0.6 11l0.3 19.1l1.9 11.5l0.7 9.5l-0.1 25.1l-141.6 0l0.8-26.1l0.3-53.1l-0.5-11l-1-9l-1.3-5.1l-1.3-1.7l-1 0.4l-0.7 1.3l-1 4l-1.6 23.1l-0.2 55.1l0.9 22.1l-66.1 0l2.2-12l0.6-16.1l1.9-19l1-5.3l1-1.7l1.3 6l1.2 23l2.1 9.1l2.4 7.3l3 4.8l2 1.1l1 0.1l1-0.3l1.7-2l1-5l-0.2-4l-1-5l-7.1-23.1l-6.2-27.1l-1.2-11.7l-0.6-26.4l-1.4-6.7l-1-1.6l-1-0.1l-1 0.9l-1.5 3.5l-1.8 9l-3.5 35.1l-1.2 32.1l-1 5.8l-2.7 8.2l-0.9 5.1l0 7l1.9 9l-21.3 0l0-120.3zM288.4 529l-0.9 5l-0.3 6l0.3 41.2l1 21l0.1 0.5l1 0.5l0.7-7l0.4-14l0-41.1l-0.9-11.1l-0.2-1l-1-0.7zM317.5 557.1l0.1 7.9l1.9 14.1l3.1 15.9l2 5.6l0.4-3.4l-0.3-6l-2.6-21.1l-2.5-11l-1-2.4l-1 0zM347.4 611.2l-0.1 5l0.3 1.9l1 1.5l0.4-2.4l-0.1-3l-0.3-1.7l-1-1.7z"/>
<path fill="#ffe8d4" fill-rule="evenodd" d="M199.6 520l26.1 0l-1.7 10l-1.4 22.1l-1 5.4l-7-25.2l-1-2l-1-0.4l-0.8 4.1l0.3 9.1l1.5 10.3l4 15.9l2 4.9l1 0.4l1 3.2l0.9 11.4l0.1 9l-1 9l-3.4 10l-1.7 9.1l0 6l1.3 8l-19.2 0l0-120.3zM238.6 520l45.1 0l-0.5 4l0.3 7l0.6 4l1.5 4.8l0.9 9.3l0.8 41.1l1.3 18.4l1 2.7l0.6-2.1l1.1-7l0.3-9.7l1 47.8l-39 0l1.1-6l-0.4-6l-8.2-28.1l-4.2-31.1l-1.4-14l-1.1-24.1l-1.6-11zM301.6 520l110.2 0l-0.7 6l0.8 10l1.5 6.1l2.2 4.1l3 2.8l3 1.4l8 1.1l6-0.6l1 0.3l1 2.1l0.5 6.8l0.6 36.1l0.4 3l1.5 3.4l1 5.2l0.6 7.4l0.2 13.1l-0.5 12l-68.2 0l-1.3-2l-2.8-1.4l-4-0.8l-10-0.7l-6-1.6l-4 1.2l-7.7 1.3l-3.1 2l-1 2l-32.7 0l1.3-74.2l-0.5-30.1l-0.8-16zM316.6 551.1l0 10l2.6 19.1l4.4 23.9l2 7.5l1 1.5l0.5-3.9l-0.3-7l-3.8-31.1l-3.4-16.4l-2-4.5zM346.2 604.2l-0.7 1.5l-0.4 3.5l0.4 8l2 8.3l1 1.7l1 0.2l1-2.1l0.3-3l-0.4-9.1l-1.9-7.7l-1-1.6l-1-0.2zM440.6 520l68 0l0 120.3l-42.7 0l-2.7-58.1l-1-14.1l-1.1-8l-1.5-4.8l-1-0.9l-1 0.4l-1.3 2.3l-2.7 7.6l-1-0.5l-5.4-18.1l-5.4-10.1zM233.6 617l4 7.6l5.2 15.7l-13.2 0l3-22.3z"/>
<path fill="#fdd0b9" fill-rule="evenodd" d="M334.6 529.8l2-0.1l3 0.8l9 4.4l10 1.5l4 1.8l2.4 1.8l2.6 3l9 14.1l2 2.1l3 2.1l5 1.5l11 0.5l5 0.9l12 4.4l12.2 3.5l5.8 3.2l1 1.2l1 2.6l1.6 16.1l1.7 9l0.7 2l1-1.5l1 0.1l1 5l0.6 16.5l-0.8 14l-60.8 0l-2.2-3l-3.8-2.3l-6-1.1l-12-0.9l-2.8-0.7l-0.9-2l0.1-11.1l-1.7-12l-2.2-7l-1.5-2.5l-1-0.7l-1 0.3l-1.5 2.9l-1.2 9l0.3 8l2.4 14.1l-2 1l-9 1.5l-2-0.2l-2.2-1.3l-0.8-2l0-2l2.5-8.1l0.3-3l-3.8-17l-2-11.7l-4-31l-0.3-6.4l1.4-7l3.1-7.1l3.8-4.9l2-1.5zM310.6 533.9l1 0.2l1 1.1l1.1 3.8l3.3 31.1l9.9 60.2l-0.7 10l-24.5 0l1.9-88.3l0.9-6.9l1.1-4.1l2-4.4l1-1.4zM481.6 535l27 0.2l0 86.7l-12 1l-15 2.1l-1 0.8l-1.2 2.5l-2.4 12l-10.1 0l-1-15l-1.4-43.1l-0.2-18.1l0.8-11l1.9-9l2.6-5.5l2-1.8l2-0.8zM201.6 538l2 0.8l1 1.1l3 6.2l7.4 23l2.2 10l1.4 10.6l1 2.3l1-2.7l1 1.2l0 11.7l-1 2.8l-1 0.3l-1 3.9l-3.2 15.1l-2.5 16l-13.2 0l-1.1-6.3l0-94l1-1.2zM269.6 543.7l2-0.5l3 0.1l3 1.1l3 1.7l3.3 5l1.5 5l2 44.1l1.8 22.1l-0.1 18l-5.4 0l-1.1-3.2l-1-0.5l-3 2.6l-2.7 1.1l-5.3 0l-3-1.8l-3-4.4l-5-10.7l-7-10.6l-2.6-6.6l-1.8-7l-1.8-13l-1.3-19.1l0.6-10l1.8-7l2.1-3.7l3-1.8l3 0.5l4 3.4l2 1.1l2-1l3.7-3.5zM234.6 626.5l1-0.2l1 0.9l1.1 2.1l1.5 5l0.7 6l-7.8 0l0.6-9l0.9-3.4zM500.6 627.2l4-0.8l4 0.9l0 13l-12.6 0l-0.6-1l-0.9-3l0.8-4l2.3-3.1z"/>
<path fill="#fcaa87" fill-rule="evenodd" d="M478.6 545l7-0.5l23 0.4l0 69.5l-10 1l-10 2.3l-7 0.8l-2 0.9l-2 3.4l-2.5 12.5l-1.6 5l-5.3 0l-1.5-12l-0.9-27.1l0.1-23.1l1-15l1.6-9l2.1-4.9l3-2.7zM335.6 548.8l1.5 0.3l1.5 1l2 2.8l1.6 3.2l2 6l3 12l0.3 3l-0.6 4.1l-5.3 9.7l-2 2.5l-2 0.9l-2-0.3l-1-0.7l-2.6-4.1l-1.7-6l-0.8-8.1l0.2-9l1.2-9l2.1-6l1.6-1.9zM270.6 552.9l5-0.1l5 2l2 2.8l1.8 6.5l1.2 8.6l2.6 45.5l-0.2 15.1l-0.4 4.7l-0.8 2.3l-0.5 0l-0.7-1l-3-11.8l-1-2.3l-1 0.5l-3 3.2l-3 1.1l-4-0.1l-3-2.2l-2.2-3.4l-5.8-11.8l-5-4.7l-2-3.1l-2-5.5l-1-4.8l-1.2-10.2l-0.6-14.1l0.6-7l1.4-5l1.8-2.5l1-0.6l2 0.3l2 2l4 7l1 0.1l5.1-8.3l1.9-2.1zM309.6 553l2-0.3l1 0.7l1 2.3l2 9.8l5.7 35.7l0.9 7l0.9 14.1l0.1 18l-21 0l1.2-55.1l1-19.1l1.2-7.5l1-2.8l1-1.5zM202.6 553.5l2 0l2 1.5l2 2.6l3 6.2l3.6 12.3l2 16.1l0.2 12l-1 9l-4.3 17.1l-2.1 6l-2 4l-4.8 0l-1.3-3l-1.1-6l-2.2-24.6l0-46.6l2-4.8zM357.6 555.7l1-0.3l2 0.3l3 3.1l2.1 5.3l1.2 7l-0.3 6l-1.3 5.1l-2.7 4l-3 1.4l-3-0.7l-3.1-2.7l-2.3-4l-0.7-4.1l0.7-6l1.8-7l2.3-5zM397.6 601.2l15 0.7l7 0.8l6 1.6l4.9 2.9l2.1 3.3l0.8 5.7l-0.4 10.1l-0.9 3l-1.3 2l-4.2 2.9l-5 1.4l-23 2.1l-8-0.9l-3 0.1l-4-2.6l-2-0.7l-3.3-0.3l-5.1-3l-1.1-2l-0.7-3l-0.6-10.1l0.5-6l1.5-3l3.8-2.9l2-0.9l4-0.1l5-0.9zM440.6 606.8l1.1 6.4l0.4 12.1l-0.5 10.8l-1.2 4.2l-1.4-5l-0.6-12l0.7-13.1l0.5-2.1zM235.6 630.9l1 0.5l1 2.4l0.4 6.5l-3.9 0l0-6l0.5-2.1zM503.6 632.1l3 0.3l2 1.7l0 3.7l-2 1.6l-2 0.4l-2-0.4l-2.3-2.1l-0.2-2l0.3-1l1.2-1.3z"/>
<path fill="#fa7d4b" fill-rule="evenodd" d="M482.6 551.1l26 0.6l0 57.7l-10 1.1l-11 3.1l-7 0.8l-2 1l-2 3.8l-3.3 15.1l-1.4 3l-1.3 1.3l-1-0.3l-1.1-3l-1-6l-0.5-9.1l-0.4-28l0.6-14.1l1-11l1.4-7l1-2.4l2-2.9l4-2.4zM270.6 558.9l2-0.4l3 0.3l5 2.6l1 0.8l1 1.9l1.1 4l1.7 13.1l2.3 36l-0.2 11.1l-0.9 6.6l-1-0.3l-1-2.8l-3-13.9l-1-0.2l-2.4 3.6l-2.6 1.9l-4 0.5l-2-0.7l-2-2.1l-2.5-4.7l-3.9-13l-0.8-7l3.6-24.1l1.3-5l1.6-4l1.7-2.6zM203.6 559.8l2 0.1l3 2.6l2 3.4l1.7 4.2l2.9 12.1l1.1 14l-0.3 11l-1.5 9l-5.9 17.3l-1.4 2.8l-1.6 1.3l-1-0.4l-1-1.4l-1.5-5.5l-1-17.1l-2.5-22.3l0-17.5l0.4-3.3l1.9-7l1.2-2zM252.6 564.6l1-0.3l1 0.7l1 1.9l1.4 7.2l1.3 19.1l-0.7 3l-1 1.4l-1 0.3l-1-0.4l-1-1.3l-1-2.4l-1.6-9.6l-0.4-13.1l1-5zM334.6 564.3l1 0.3l0.6 1.5l0.9 6l-0.9 6l-0.6 1.5l-1 0.2l-1.1-2.7l-0.4-5l0.5-5.4zM309.6 565.7l3-0.3l1 0.9l1 2.3l2 9l2.5 16.6l1.9 9l0.7 8l0.3 12.1l-1.1 17l-18 0l-0.2-12l1.9-47.3l1-7.8l1-3.8l1-2.1zM341.6 570.9l0 4.7l-0.8-2.5zM440.6 608.6l1 5.1l0.4 9.6l-0.4 10.2l-1 4.5l-1.4-5.7l-0.3-9l0.4-10.1zM398.6 614.1l1 0.4l1 1.7l0.6 4l-0.6 4.7l-1 1.7l-1 0.5l-1-0.5l-1-1.7l-0.6-4.7l0.7-4l0.9-1.6zM387.6 615.3l0.8 4.9l-0.8 5.8l-0.7-5.8z"/>
<path fill="#f54b1e" fill-rule="evenodd" d="M481.6 557l3-0.3l24 1.8l0 46l-11 1.4l-10 3.4l-7 0.7l-2 0.9l-1 1.1l-1.5 3.2l-3.4 15.1l-1.1 2.7l-1 0.9l-1-0.2l-1-3.4l-1.2-17.1l-0.1-20l1.3-18.6l1.5-7.5l2.5-4.8l4-3.2zM204.6 563.9l2 0.5l2 1.8l2 3.2l1.8 4.7l2.1 10.1l0.9 13l-0.3 9l-1.5 8.2l-6 16.4l-1 1.8l-1 0.7l-1-0.7l-0.6-1.3l-0.9-4l-0.7-13.1l-2.2-18l-0.7-12l0.3-8.1l0.9-6l1.9-4.7zM271.6 563.8l4 0.3l4 3.3l2 0.5l1 1.8l1 3.8l1.6 12.7l2.2 30l-0.3 11.1l-0.5 3.1l-1 0.9l-1.7-5l-2.3-14.9l-1-1.3l-2.1 4.1l-1.9 2.5l-2 1.2l-3 0.4l-2-0.9l-2-2.4l-1.6-3.8l-1.1-4l-0.8-5l-0.1-6l1.6-20.1l2.1-8l1.9-3.1zM310.6 576.9l2-0.2l1 0.7l1 1.8l1 3.3l2.3 12.7l1.9 6l1 5l0.4 8l0 12.1l-0.9 6l-1.9 8l-14.8 0l-0.3-14l2.3-38.1l1-5.9l1-3l1-1.5zM440.6 610.3l1 5.6l0.2 7.4l-0.2 7.6l-1 4.9l-1-4.5l-0.4-8l0.3-8.1z"/>
<path fill="#e12d0f" fill-rule="evenodd" d="M482.6 568.8l1-0.2l2 0.6l1.8 1.9l1.4 3l1.1 7.1l-0.8 8l-1.7 4l-2.8 2.5l-2 0l-4-3.4l-1 0.4l-3.4 17.5l-2.6 11.3l-1 2l-1-1.2l-1.1-16.1l0.1-12.9l1-10.2l1-3.7l1-1.5l1 0l1.1 1.2l1.9 3.7l1 0.9l2.7-10.6l1.3-2.4zM204.6 570.6l1-0.3l2 0.8l3 4.7l2 7.4l0.9 9l0 9l-0.9 7l-2 5.5l-3 4.8l-1 0.5l-1-2l-2.6-13.8l-1.5-15l0.4-11.1l1.1-4zM271.6 575.7l1-0.4l2 0.4l2 2.6l1.1 4.9l0.3 7l-0.3 7l-1.1 4.9l-2 3.3l-3 1.1l-1-0.5l-1.5-2.8l-0.7-3l-0.2-5l1-14l1.2-4.1zM282.6 580.9l1 2.9l1 6.7l2.2 23.7l-0.1 9.1l-1.1 3.7l-1-1.9l-0.7-3.8l-2.1-23.1l-0.3-12l0.2-3zM314.6 598.8l1 0.4l2 1.9l1 1.5l1.1 3.6l0.7 12l-0.6 9.1l-1.2 3.4l-3 2.8l-1 0.2l-1-0.6l-2-2.9l-1 1.4l-2 7l-1 1.6l-1.2 0.1l-0.8-0.9l-0.6-2.1l-0.5-5l0.1-6l1-6.5l2-5.7l1-1.2l1 0.1l1-0.7l1.5-10.1l1.5-2.9zM440.6 613.8l0.9 9.5l-0.9 8.5l-0.8-9.5z"/>
<path fill="#b91e0a" fill-rule="evenodd" d="M205.6 576.1l1 0l1 0.6l2 3.2l1.3 4.3l0.8 6l0.1 7l-0.8 6l-1.4 4l-1 1.2l-1 0.3l-1-1.1l-1.7-5.4l-1.6-12l0.3-9.7l1-3.2zM471.6 590.3l1 4.9l0 4.7l-1 6l-1-0.1l-0.4-9.6l0.4-4.4zM283.6 597.5l0.3 2.7l0.7 1.2l1.6 12.8l0.1 5l-0.7 4.3l-1-1.8l-0.5-4.5zM314.6 604l1-0.4l1 0.4l1.7 2.2l1.1 7l0.1 7l-0.6 5.1l-1.3 2.6l-2 1l-1-0.6l-0.9-2l-0.6-5l0.1-12.1z"/>
<path fill="#820000" fill-rule="evenodd" d="M206.6 583.3l1 0.7l1 2.2l0.6 4l-0.2 6l-0.4 1.7l-1 1.2l-1.2-1.9l-1-7l0.2-5zM315.6 607.8l1 0.4l1.1 2l0.6 8l-0.7 5l-1 1.2l-1 0.3l-1-2l-0.3-5.5l0.2-7zM285.6 614.2l0 5.1l-0.7-4.1z"/><rect x="207.2" y="636.3" width="26.0" height="4.0" fill="#000"/><rect x="223.0" y="631.7" width="8.3" height="4.7" fill="#000"/><rect x="441.0" y="636.3" width="14.8" height="4.0" fill="#000"/><rect x="459.2" y="636.3" width="7.4" height="4.0" fill="#000"/></g>
<rect x="198.55" y="520.0" width="309.9" height="120.3" fill="none" stroke="#000" stroke-width="1.2"/>
<path d="M198.55 520.0v-7.4M198.55 640.3v7.4M224.43 520.0v-4.2M224.43 640.3v4.2M250.31 520.0v-7.4M250.31 640.3v7.4M276.19 520.0v-4.2M276.19 640.3v4.2M302.07 520.0v-7.4M302.07 640.3v7.4M327.95 520.0v-4.2M327.95 640.3v4.2M353.83 520.0v-7.4M353.83 640.3v7.4M379.71 520.0v-4.2M379.71 640.3v4.2M405.59 520.0v-7.4M405.59 640.3v7.4M431.47 520.0v-4.2M431.47 640.3v4.2M457.35 520.0v-7.4M457.35 640.3v7.4M483.23 520.0v-4.2M483.23 640.3v4.2M198.55 520.00h-7.2M198.55 541.18h-7.2M198.55 556.21h-7.2M198.55 567.87h-7.2M198.55 577.40h-7.2M198.55 592.43h-7.2M198.55 604.09h-7.2M198.55 621.67h-7.2M198.55 631.81h-7.2M198.55 640.30h-7.2M508.45 522.00h7.2M508.45 554.20h7.2M508.45 586.40h7.2M508.45 615.00h7.2" stroke="#000" stroke-width="1.1" fill="none"/>
<text x="186.3" y="522.90" font-size="7.9" text-anchor="end">100</text>
<text x="186.3" y="544.08" font-size="7.9" text-anchor="end">150</text>
<text x="186.3" y="559.11" font-size="7.9" text-anchor="end">200</text>
<text x="186.3" y="570.77" font-size="7.9" text-anchor="end">250</text>
<text x="186.3" y="580.30" font-size="7.9" text-anchor="end">300</text>
<text x="186.3" y="595.33" font-size="7.9" text-anchor="end">400</text>
<text x="186.3" y="606.99" font-size="7.9" text-anchor="end">500</text>
<text x="186.3" y="624.57" font-size="7.9" text-anchor="end">700</text>
<text x="186.3" y="634.71" font-size="7.9" text-anchor="end">850</text>
<text x="186.3" y="643.20" font-size="7.9" text-anchor="end">1000</text>
<text x="520.8" y="524.90" font-size="7.9">16</text>
<text x="520.8" y="557.10" font-size="7.9">12</text>
<text x="520.8" y="589.30" font-size="7.9">8</text>
<text x="520.8" y="617.90" font-size="7.9">4</text>
<text x="198.65" y="659.30" font-size="7.9" text-anchor="middle">0</text>
<text x="250.41" y="659.30" font-size="7.9" text-anchor="middle">60E</text>
<text x="302.17" y="659.30" font-size="7.9" text-anchor="middle">120E</text>
<text x="353.93" y="659.30" font-size="7.9" text-anchor="middle">180</text>
<text x="405.69" y="659.30" font-size="7.9" text-anchor="middle">120W</text>
<text x="457.45" y="659.30" font-size="7.9" text-anchor="middle">60W</text>
<text x="353.5" y="665.60" font-size="7.0" text-anchor="middle" xml:space="preserve">MIN = -63.15  MAX =  57.75</text>
<text transform="translate(159.4 580.15) rotate(-90)" font-size="12.25" text-anchor="middle">Pressure (mb)</text>
<text transform="translate(547.8 580.15) rotate(-90)" font-size="12.2" text-anchor="middle">Height (km)</text>
<text x="198.55" y="510.00" font-size="9.5">vertical pressure velocity</text>
<text x="508.45" y="510.00" font-size="9.5" text-anchor="end">mb/day</text>
<text x="353.5" y="493.50" font-size="11.8" text-anchor="middle">f.cam6_3_132.FCLTHIST_ne30.001 - ERA40</text>
<rect x="200.20" y="674.10" width="19.15" height="5.0" fill="#00008c" stroke="#000" stroke-width="0.7"/>
<rect x="219.35" y="674.10" width="19.15" height="5.0" fill="#0a1ebe" stroke="#000" stroke-width="0.7"/>
<rect x="238.50" y="674.10" width="19.15" height="5.0" fill="#0f3ce1" stroke="#000" stroke-width="0.7"/>
<rect x="257.65" y="674.10" width="19.15" height="5.0" fill="#1e5af5" stroke="#000" stroke-width="0.7"/>
<rect x="276.80" y="674.10" width="19.15" height="5.0" fill="#4678f5" stroke="#000" stroke-width="0.7"/>
<rect x="295.95" y="674.10" width="19.15" height="5.0" fill="#78a0f5" stroke="#000" stroke-width="0.7"/>
<rect x="315.10" y="674.10" width="19.15" height="5.0" fill="#aac8fa" stroke="#000" stroke-width="0.7"/>
<rect x="334.25" y="674.10" width="19.15" height="5.0" fill="#d2e6fc" stroke="#000" stroke-width="0.7"/>
<rect x="353.40" y="674.10" width="19.15" height="5.0" fill="#ffe8d4" stroke="#000" stroke-width="0.7"/>
<rect x="372.55" y="674.10" width="19.15" height="5.0" fill="#fdd0b9" stroke="#000" stroke-width="0.7"/>
<rect x="391.70" y="674.10" width="19.15" height="5.0" fill="#fcaa87" stroke="#000" stroke-width="0.7"/>
<rect x="410.85" y="674.10" width="19.15" height="5.0" fill="#fa7d4b" stroke="#000" stroke-width="0.7"/>
<rect x="430.00" y="674.10" width="19.15" height="5.0" fill="#f54b1e" stroke="#000" stroke-width="0.7"/>
<rect x="449.15" y="674.10" width="19.15" height="5.0" fill="#e12d0f" stroke="#000" stroke-width="0.7"/>
<rect x="468.30" y="674.10" width="19.15" height="5.0" fill="#b91e0a" stroke="#000" stroke-width="0.7"/>
<rect x="487.45" y="674.10" width="19.15" height="5.0" fill="#820000" stroke="#000" stroke-width="0.7"/>
<text x="219.35" y="687.30" font-size="7.5" text-anchor="middle">-50</text>
<text x="238.50" y="687.30" font-size="7.5" text-anchor="middle">-40</text>
<text x="257.65" y="687.30" font-size="7.5" text-anchor="middle">-30</text>
<text x="276.80" y="687.30" font-size="7.5" text-anchor="middle">-20</text>
<text x="295.95" y="687.30" font-size="7.5" text-anchor="middle">-15</text>
<text x="315.10" y="687.30" font-size="7.5" text-anchor="middle">-10</text>
<text x="334.25" y="687.30" font-size="7.5" text-anchor="middle">-5</text>
<text x="353.40" y="687.30" font-size="7.5" text-anchor="middle">0</text>
<text x="372.55" y="687.30" font-size="7.5" text-anchor="middle">5</text>
<text x="391.70" y="687.30" font-size="7.5" text-anchor="middle">10</text>
<text x="410.85" y="687.30" font-size="7.5" text-anchor="middle">15</text>
<text x="430.00" y="687.30" font-size="7.5" text-anchor="middle">20</text>
<text x="449.15" y="687.30" font-size="7.5" text-anchor="middle">30</text>
<text x="468.30" y="687.30" font-size="7.5" text-anchor="middle">40</text>
<text x="487.45" y="687.30" font-size="7.5" text-anchor="middle">50</text>
</svg></body></html>
